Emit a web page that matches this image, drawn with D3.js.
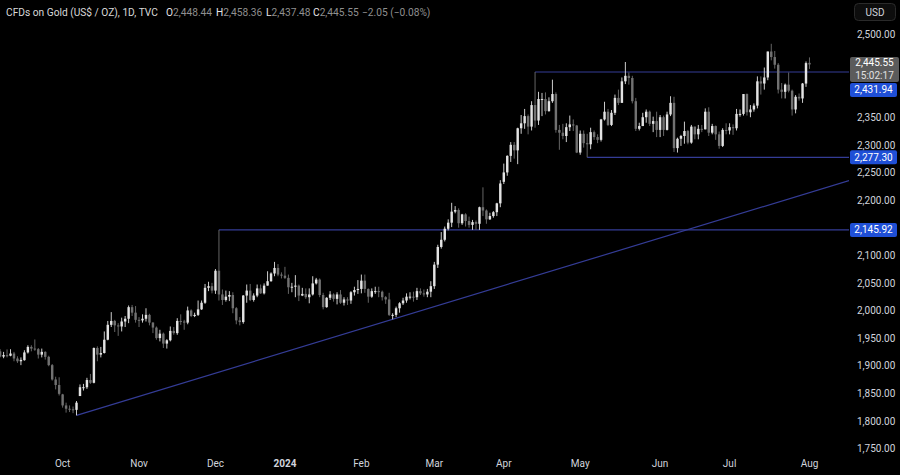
<!DOCTYPE html>
<html><head><meta charset="utf-8">
<script src="https://cdn.jsdelivr.net/npm/d3@7"></script>
<style>
html,body{margin:0;padding:0;background:#000;}
svg{display:block;font-family:Roboto,"Liberation Sans",sans-serif;}
</style></head>
<body><svg id="c" width="900" height="475"></svg>
<script>
// ---- DATA: daily OHLC [date, open, high, low, close] ----
const sep23 = [
 ["2023-09-05",1939,1942.5,1923.8,1926],["2023-09-06",1926,1930,1915,1916.5],["2023-09-07",1916.5,1925,1913.5,1919.2],
 ["2023-09-08",1919,1929.5,1915,1918.8],["2023-09-11",1918,1929.8,1917,1922],["2023-09-12",1922,1925,1908,1913],
 ["2023-09-13",1913,1917,1905,1908],["2023-09-14",1908,1915,1901,1910.5],["2023-09-15",1910,1928,1909,1924],
 ["2023-09-18",1924,1937,1922,1934],["2023-09-19",1934,1937,1926,1931],["2023-09-20",1931,1947.5,1927,1930],
 ["2023-09-21",1930,1932,1913,1920],["2023-09-22",1920,1931,1915,1925],["2023-09-25",1925,1926,1911,1916],
 ["2023-09-26",1916,1918,1899,1901],["2023-09-27",1901,1903,1873,1875],["2023-09-28",1875,1880,1857,1865],
 ["2023-09-29",1865,1879,1846,1849]
];
const oct23 = [
 ["2023-10-02",1848,1849,1824,1828],["2023-10-03",1828,1833,1815,1822],["2023-10-04",1822,1828,1816,1821],
 ["2023-10-05",1821,1826,1814,1820],["2023-10-06",1820,1836,1810,1833],["2023-10-09",1845,1866,1845,1861],
 ["2023-10-10",1861,1867,1855,1861],["2023-10-11",1861,1878,1858,1874],["2023-10-12",1874,1885,1867,1869],
 ["2023-10-13",1869,1933,1868,1932],["2023-10-16",1932,1935,1908,1920],["2023-10-17",1920,1934,1915,1923],
 ["2023-10-18",1923,1962,1922,1947],["2023-10-19",1947,1981,1946,1974],["2023-10-20",1974,1997,1970,1981],
 ["2023-10-23",1981,1983,1961,1973],["2023-10-24",1973,1977,1954,1971],["2023-10-25",1971,1987,1962,1980],
 ["2023-10-26",1980,1990,1970,1985],["2023-10-27",1985,2009,1977,2006],["2023-10-30",2006,2010,1990,1996],
 ["2023-10-31",1996,2008,1978,1983]
];
const nov23 = [
 ["2023-11-01",1983,1988,1970,1982],["2023-11-02",1982,1993,1978,1985],["2023-11-03",1985,2004,1980,1992],
 ["2023-11-06",1992,1994,1973,1978],["2023-11-07",1978,1979,1959,1969],["2023-11-08",1969,1971,1947,1950],
 ["2023-11-09",1950,1965,1944,1958],["2023-11-10",1958,1960,1932,1940],["2023-11-13",1940,1948,1931,1946],
 ["2023-11-14",1946,1971,1944,1963],["2023-11-15",1963,1970,1956,1959],["2023-11-16",1959,1986,1956,1981],
 ["2023-11-17",1981,1993,1974,1980],["2023-11-20",1980,1983,1965,1978],["2023-11-21",1978,2007,1975,2000],
 ["2023-11-22",2000,2002,1988,1990],["2023-11-23",1990,1996,1988,1992],["2023-11-24",1992,2018,1990,2002],
 ["2023-11-27",2002,2018,2001,2014],["2023-11-28",2014,2048,2012,2041],["2023-11-29",2041,2052,2035,2044],
 ["2023-11-30",2044,2050,2031,2036]
];
const dec23 = [
 ["2023-12-01",2036,2075,2030,2072],["2023-12-04",2072,2146,2018,2029],["2023-12-05",2029,2038,2010,2019],
 ["2023-12-06",2019,2036,2016,2025],["2023-12-07",2025,2035,2017,2028],["2023-12-08",2028,2033,1995,2004],
 ["2023-12-11",2004,2006,1975,1982],["2023-12-12",1982,1988,1973,1979],["2023-12-13",1979,2028,1976,2027],
 ["2023-12-14",2027,2047,2014,2036],["2023-12-15",2036,2048,2017,2019],["2023-12-18",2019,2031,2016,2027],
 ["2023-12-19",2027,2047,2024,2040],["2023-12-20",2040,2047,2030,2031],["2023-12-21",2031,2049,2029,2045],
 ["2023-12-22",2045,2071,2045,2053],["2023-12-26",2053,2069,2052,2067],["2023-12-27",2067,2088,2062,2077],
 ["2023-12-28",2077,2084,2062,2065],["2023-12-29",2065,2069,2058,2063]
];
const jan24 = [
 ["2024-01-02",2063,2079,2057,2059],["2024-01-03",2059,2065,2030,2042],["2024-01-04",2042,2050,2033,2043],
 ["2024-01-05",2043,2064,2024,2045],["2024-01-08",2045,2047,2017,2027],["2024-01-09",2027,2041,2026,2030],
 ["2024-01-10",2030,2040,2021,2024],["2024-01-11",2024,2040,2013,2029],["2024-01-12",2029,2062,2027,2049],
 ["2024-01-15",2049,2059,2047,2056],["2024-01-16",2056,2058,2024,2028],["2024-01-17",2028,2032,2002,2006],
 ["2024-01-18",2006,2024,2005,2023],["2024-01-19",2023,2035,2019,2029],["2024-01-22",2029,2031,2016,2021],
 ["2024-01-23",2021,2033,2011,2029],["2024-01-24",2029,2037,2012,2014],["2024-01-25",2014,2024,2009,2020],
 ["2024-01-26",2020,2024,2010,2018],["2024-01-29",2018,2035,2012,2033],["2024-01-30",2033,2043,2027,2037],
 ["2024-01-31",2037,2055,2030,2039]
];
const feb24 = [
 ["2024-02-01",2039,2065,2031,2054],["2024-02-02",2054,2065,2032,2039],["2024-02-05",2039,2040,2014,2025],
 ["2024-02-06",2025,2040,2023,2035],["2024-02-07",2035,2043,2030,2035],["2024-02-08",2035,2043,2024,2034],
 ["2024-02-09",2034,2036,2018,2024],["2024-02-12",2024,2026,2012,2020],["2024-02-13",2020,2032,1990,1992],
 ["2024-02-14",1992,1995,1984,1992],["2024-02-15",1992,2007,1988,2004],["2024-02-16",2004,2015,1996,2013],
 ["2024-02-19",2013,2023,2010,2018],["2024-02-20",2018,2031,2014,2025],["2024-02-21",2025,2033,2020,2025],
 ["2024-02-22",2025,2034,2016,2024],["2024-02-23",2024,2041,2019,2035],["2024-02-26",2035,2040,2028,2031],
 ["2024-02-27",2031,2038,2025,2029],["2024-02-28",2029,2039,2024,2034],["2024-02-29",2034,2053,2024,2044]
];
const mar24 = [
 ["2024-03-01",2044,2088,2039,2083],["2024-03-04",2083,2119,2077,2115],["2024-03-05",2115,2142,2112,2128],
 ["2024-03-06",2128,2152,2125,2148],["2024-03-07",2148,2165,2145,2159],["2024-03-08",2159,2195,2151,2179],
 ["2024-03-11",2179,2189,2176,2182],["2024-03-12",2182,2185,2150,2158],["2024-03-13",2158,2175,2155,2174],
 ["2024-03-14",2174,2176,2152,2162],["2024-03-15",2162,2170,2150,2155],["2024-03-18",2155,2164,2146,2160],
 ["2024-03-19",2160,2163,2146,2157],["2024-03-20",2157,2188,2146,2187],["2024-03-21",2187,2223,2171,2181],
 ["2024-03-22",2181,2183,2157,2165],["2024-03-25",2165,2177,2164,2171],["2024-03-26",2171,2180,2168,2178],
 ["2024-03-27",2178,2195,2171,2194],["2024-03-28",2194,2236,2187,2230]
];
const apr24 = [
 ["2024-04-01",2233,2266,2229,2250],["2024-04-02",2250,2281,2244,2280],["2024-04-03",2280,2305,2269,2300],
 ["2024-04-04",2300,2305,2275,2290],["2024-04-05",2290,2331,2265,2330],["2024-04-08",2330,2354,2320,2339],
 ["2024-04-09",2339,2365,2329,2352],["2024-04-10",2352,2355,2319,2333],["2024-04-11",2333,2379,2326,2372],
 ["2024-04-12",2372,2431.94,2331,2344],["2024-04-15",2344,2396,2336,2383],["2024-04-16",2383,2394,2352,2383],
 ["2024-04-17",2383,2395,2355,2361],["2024-04-18",2361,2386,2360,2379],["2024-04-19",2379,2418,2376,2392],
 ["2024-04-22",2392,2395,2322,2327],["2024-04-23",2327,2336,2291,2322],["2024-04-24",2322,2338,2310,2316],
 ["2024-04-25",2316,2339,2305,2332],["2024-04-26",2332,2353,2325,2337],["2024-04-29",2337,2346,2325,2335],
 ["2024-04-30",2335,2336,2285,2286]
];
const may24 = [
 ["2024-05-01",2286,2326,2282,2320],["2024-05-02",2320,2326,2295,2303],["2024-05-03",2303,2320,2277.3,2301],
 ["2024-05-06",2301,2331,2292,2323],["2024-05-07",2323,2326,2309,2314],["2024-05-08",2314,2319,2303,2309],
 ["2024-05-09",2309,2347,2306,2346],["2024-05-10",2346,2378,2344,2360],["2024-05-13",2360,2365,2334,2336],
 ["2024-05-14",2336,2363,2334,2358],["2024-05-15",2358,2391,2354,2385],["2024-05-16",2385,2400,2372,2376],
 ["2024-05-17",2376,2422,2376,2415],["2024-05-20",2415,2450,2410,2425],["2024-05-21",2425,2431,2409,2421],
 ["2024-05-22",2421,2425,2375,2379],["2024-05-23",2379,2385,2325,2329],["2024-05-24",2329,2340,2326,2334],
 ["2024-05-27",2334,2358,2334,2350],["2024-05-28",2350,2364,2340,2360],["2024-05-29",2360,2362,2334,2338],
 ["2024-05-30",2338,2351,2323,2343],["2024-05-31",2343,2360,2314,2327]
];
const jun24 = [
 ["2024-06-03",2327,2354,2314,2350],["2024-06-04",2350,2353,2316,2327],["2024-06-05",2327,2360,2326,2355],
 ["2024-06-06",2355,2388,2352,2376],["2024-06-07",2376,2387,2287,2294],["2024-06-10",2294,2313,2286,2311],
 ["2024-06-11",2311,2318,2298,2316],["2024-06-12",2316,2342,2302,2325],["2024-06-13",2325,2327,2301,2304],
 ["2024-06-14",2304,2336,2302,2333],["2024-06-17",2333,2333,2310,2319],["2024-06-18",2319,2336,2310,2329],
 ["2024-06-19",2329,2336,2323,2328],["2024-06-20",2328,2366,2328,2360],["2024-06-21",2360,2368,2316,2322],
 ["2024-06-24",2322,2338,2319,2334],["2024-06-25",2334,2335,2309,2319],["2024-06-26",2319,2324,2293,2298],
 ["2024-06-27",2298,2330,2296,2327],["2024-06-28",2327,2339,2319,2326]
];
const jul24 = [
 ["2024-07-01",2326,2339,2319,2332],["2024-07-02",2332,2337,2318,2330],["2024-07-03",2330,2365,2326,2356],
 ["2024-07-04",2356,2364,2351,2356],["2024-07-05",2356,2392,2353,2392],["2024-07-08",2392,2393,2353,2359],
 ["2024-07-09",2359,2372,2350,2364],["2024-07-10",2364,2375,2360,2371],["2024-07-11",2371,2424,2366,2415],
 ["2024-07-12",2415,2424,2391,2411],["2024-07-15",2411,2440,2400,2422],["2024-07-16",2422,2469,2417,2469],
 ["2024-07-17",2469,2483,2453,2459],["2024-07-18",2459,2470,2438,2445],["2024-07-19",2445,2448,2393,2400],
 ["2024-07-22",2400,2412,2384,2396],["2024-07-23",2396,2411,2384,2409],["2024-07-24",2409,2431,2395,2398],
 ["2024-07-25",2398,2400,2353,2364],["2024-07-26",2364,2390,2357,2387],["2024-07-29",2387,2393,2380,2384],
 ["2024-07-30",2384,2412,2376,2411],["2024-07-31",2411,2451,2405,2448]
];
const aug24 = [
 ["2024-08-01",2448.44,2458.36,2437.48,2445.55]
];
const priceTicks = [1750,1800,1850,1900,1950,2000,2050,2100,2150,2200,2250,2300,2350,2400,2450,2500];
const monthTicks = [["2023-10-02","Oct"],["2023-11-01","Nov"],["2023-12-01","Dec"],["2024-01-02","2024"],
 ["2024-02-01","Feb"],["2024-03-01","Mar"],["2024-04-01","Apr"],["2024-05-01","May"],["2024-06-03","Jun"],
 ["2024-07-01","Jul"],["2024-08-01","Aug"]];
const levels = [["2023-12-04",2145.92],["2024-04-12",2431.94],["2024-05-03",2277.30]];
const trendAnchors = [["2023-10-06",1810],["2024-02-14",1984]];
const countdown = "15:02:17";
const changeText = "\u22122.05 (\u22120.08%)";

// ---- BUILD ----
const rows = [].concat(sep23,oct23,nov23,dec23,jan24,feb24,mar24,apr24,may24,jun24,jul24,aug24)
  .map(r=>({d:r[0],o:r[1],h:r[2],l:r[3],c:r[4]}));
const last = rows[rows.length-1];
const svg = d3.select("#c");
const W=900,H=475, plotR=849, plotB=455;
svg.append("rect").attr("width",W).attr("height",H).attr("fill","#000");

const x = d3.scaleBand().domain(rows.map(r=>r.d)).range([-4.6,810.7]).paddingInner(0.3);
const xc = d => x(d)+x.bandwidth()/2;
const y = d3.scaleLinear().domain([1750,2500]).range([448.5,34.4]);

svg.append("defs").append("clipPath").attr("id","clip")
  .append("rect").attr("x",0).attr("y",0).attr("width",plotR).attr("height",plotB);
const plot = svg.append("g").attr("clip-path","url(#clip)");

const UP="#e3e3e3", DN="#717171", LINE="#343c96";

// horizontal rays
plot.selectAll("line.lvl").data(levels).join("line").attr("class","lvl")
  .attr("x1",d=>xc(d[0])).attr("x2",plotR).attr("y1",d=>y(d[1])).attr("y2",d=>y(d[1]))
  .attr("stroke",LINE).attr("stroke-width",1.2);

// trend line extended to right edge
const tx0=xc(trendAnchors[0][0]), ty0=y(trendAnchors[0][1]);
const tx1=xc(trendAnchors[1][0]), ty1=y(trendAnchors[1][1]);
const slope=(ty1-ty0)/(tx1-tx0);
plot.append("line").attr("x1",tx0).attr("y1",ty0).attr("x2",plotR).attr("y2",ty0+slope*(plotR-tx0))
  .attr("stroke",LINE).attr("stroke-width",1.2);

// candles
const bw = x.bandwidth();
const g = plot.selectAll("g.cd").data(rows).join("g").attr("class","cd");
g.append("line").attr("x1",d=>xc(d.d)).attr("x2",d=>xc(d.d)).attr("y1",d=>y(d.h)).attr("y2",d=>y(d.l))
  .attr("stroke",d=>d.c>=d.o?UP:DN).attr("stroke-width",0.9);
g.append("rect").attr("x",d=>x(d.d)).attr("width",bw)
  .attr("y",d=>y(Math.max(d.o,d.c))).attr("height",d=>Math.max(1,Math.abs(y(d.o)-y(d.c))))
  .attr("fill",d=>d.c>=d.o?UP:DN);

// price label boxes (layout)
const fmt = d3.format(",.2f");
const lx=850, lw=47;
const ly = y(last.c);
const grayTop = ly-7.5, grayH=25;
const boxes = [[grayTop, grayTop+grayH]];
const levelBoxes = levels.map(([d,p])=>{
  let cy=y(p);
  if (cy-7 < grayTop+grayH+1 && cy+7 > grayTop) cy = grayTop+grayH+1+7;
  boxes.push([cy-7, cy+7]);
  return [p, cy];
});

// price axis (hide tick labels hidden behind price labels)
const visibleTicks = priceTicks.filter(t=>{
  const ty=y(t);
  return !boxes.some(([a,b])=> ty+5 > a && ty-5 < b);
});
const yAx = svg.append("g").attr("transform","translate(857,0)")
  .call(d3.axisRight(y).tickValues(visibleTicks).tickFormat(d3.format(",.2f")).tickSize(0).tickPadding(0));
yAx.select(".domain").remove();
yAx.selectAll("text").attr("fill","#d1d4dc").attr("font-size",10).attr("font-family","Roboto,sans-serif");

// time axis
const mt = new Map(monthTicks);
const xAx = svg.append("g").attr("transform","translate(0,460)")
  .call(d3.axisBottom(x).tickValues(monthTicks.map(m=>m[0])).tickFormat(d=>mt.get(d)).tickSize(0).tickPadding(0));
xAx.select(".domain").remove();
xAx.selectAll("text").attr("fill","#d1d4dc").attr("font-size",10).attr("font-family","Roboto,sans-serif")
  .attr("font-weight",d=>mt.get(d)==="2024"?"bold":"normal");

// draw price labels
svg.append("rect").attr("x",lx).attr("y",grayTop).attr("width",lw+2).attr("height",grayH).attr("rx",2).attr("fill","#5b5b5b");
svg.append("text").attr("x",lx+lw/2+1).attr("y",grayTop+6).attr("dy","0.35em").attr("text-anchor","middle")
  .attr("fill","#fff").attr("font-size",10).text(fmt(last.c));
svg.append("text").attr("x",lx+lw/2+1).attr("y",grayTop+18.5).attr("dy","0.35em").attr("text-anchor","middle")
  .attr("fill","#e0e0e0").attr("font-size",10).text(countdown);
levelBoxes.forEach(([p,cy])=>{
  svg.append("rect").attr("x",lx).attr("y",cy-7).attr("width",lw).attr("height",14).attr("rx",2).attr("fill","#1f4fd6");
  svg.append("text").attr("x",lx+lw/2).attr("y",cy).attr("dy","0.35em").attr("text-anchor","middle")
    .attr("fill","#fff").attr("font-size",10).text(fmt(p));
});

// USD button
svg.append("rect").attr("x",854.5).attr("y",3.5).attr("width",41).attr("height",17).attr("rx",4)
  .attr("fill","#0d0d0d").attr("stroke","#2a2a2a");
svg.append("text").attr("x",875).attr("y",12).attr("dy","0.35em").attr("text-anchor","middle")
  .attr("fill","#d1d4dc").attr("font-size",10).text("USD");

// header
const hdr = svg.append("text").attr("y",12).attr("dy","0.35em").attr("font-size",10.2);
hdr.append("tspan").attr("x",6).attr("fill","#d9d9d9").text("CFDs on Gold (US$ / OZ), 1D, TVC");
[["O",last.o,166],["H",last.h,216],["L",last.l,266],["C",last.c,313]].forEach(([k,v,px])=>{
  hdr.append("tspan").attr("x",px).attr("fill","#e6e6e6").text(k);
  hdr.append("tspan").attr("fill","#8f8f8f").text(fmt(v));
});
hdr.append("tspan").attr("x",362).attr("fill","#8f8f8f").text(changeText);
</script>
</body></html>
